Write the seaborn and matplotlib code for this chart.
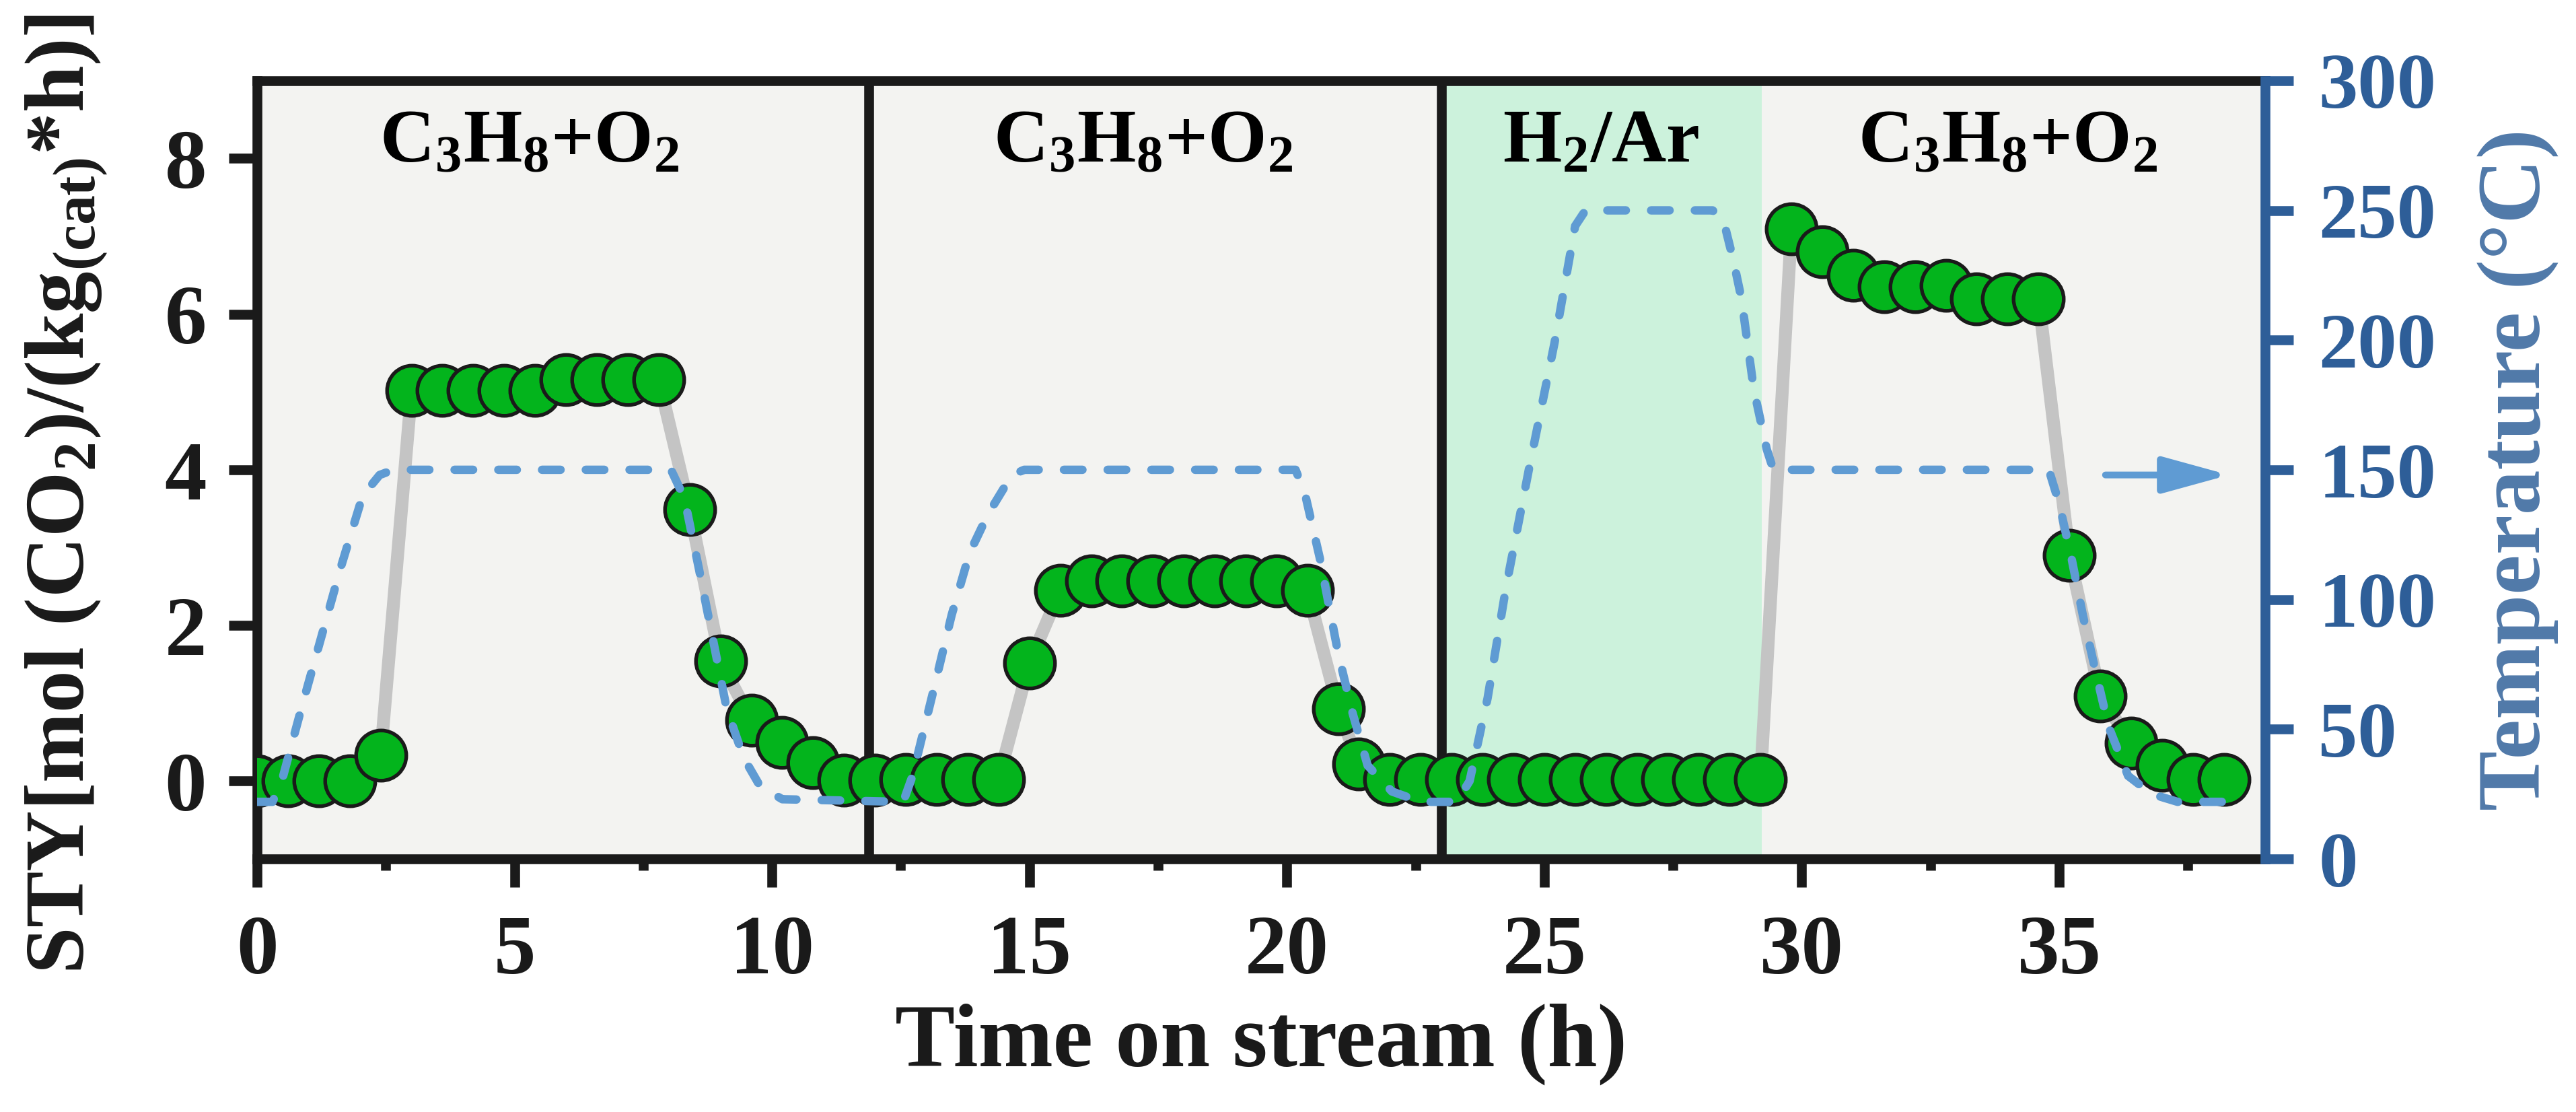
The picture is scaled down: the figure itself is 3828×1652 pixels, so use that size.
import matplotlib
matplotlib.use('Agg')
import matplotlib.pyplot as plt
from matplotlib.ticker import MultipleLocator
import seaborn as sns

# STY of CO2 vs time on stream
time_h = [0.0, 0.6, 1.2, 1.8, 2.4, 3.0, 3.6, 4.2, 4.8, 5.4, 6.0, 6.6, 7.2, 7.8,
          8.4, 9.0, 9.6, 10.2, 10.8, 11.4, 12.0,
          12.6, 13.2, 13.8, 14.4, 15.0, 15.6, 16.2, 16.8, 17.4, 18.0, 18.6, 19.2,
          19.8, 20.4, 21.0, 21.4,
          22.0, 22.6, 23.2, 23.8, 24.4, 25.0, 25.6, 26.2, 26.8, 27.4, 28.0, 28.6,
          29.2, 29.8, 30.4, 31.0, 31.6, 32.2, 32.8, 33.4, 34.0, 34.6, 35.2, 35.8,
          36.4, 37.0, 37.6, 38.2]
sty = [0.0, 0.0, 0.0, 0.0, 0.33, 5.02, 5.02, 5.02, 5.02, 5.02, 5.16, 5.16, 5.16, 5.16,
       3.49, 1.54, 0.78, 0.5, 0.24, 0.01, 0.01,
       0.02, 0.02, 0.02, 0.02, 1.52, 2.45, 2.57, 2.57, 2.57, 2.57, 2.57, 2.57,
       2.57, 2.45, 0.93, 0.22,
       0.02, 0.02, 0.02, 0.02, 0.02, 0.02, 0.02, 0.02, 0.02, 0.02, 0.02, 0.02,
       0.02, 7.1, 6.8, 6.5, 6.35, 6.35, 6.37, 6.2, 6.2, 6.2, 2.9, 1.09,
       0.49, 0.2, 0.02, 0.02]

# temperature programme (right axis)
temp_time = [0.0, 0.3, 0.48, 0.86, 1.24, 1.62, 2.05, 2.38, 2.65, 8.04, 8.3, 8.58,
             8.85, 9.12, 9.45, 9.77, 10.2, 12.55, 12.73, 13.15, 13.49, 13.84, 14.2,
             14.66, 14.9, 20.17, 20.35, 20.64, 21.0, 21.28, 21.57, 22.04, 22.6,
             23.3, 23.55, 23.9, 24.26, 24.7, 25.2, 25.6, 25.8, 28.27, 28.47, 28.67,
             28.83, 29.07, 29.32, 29.45, 34.8, 35.0, 35.24, 35.46, 35.7, 35.96,
             36.34, 36.8, 37.3, 38.2]
temp_c = [22, 22, 30, 58, 85, 112, 140, 148, 150, 150, 139, 112,
          85, 58, 39, 28, 23, 22, 32, 66, 94, 118, 133,
          148, 150, 150, 141, 116, 79, 56, 36, 26, 22,
          22, 30, 62, 105, 150, 199, 244, 250, 250, 247, 231,
          216, 181, 158, 150, 150, 137, 116, 94, 73, 51,
          32, 25, 22, 22]

dividers = [11.88, 23.0]
h2_span = (23.0, 29.22)
labels = ['C$_3$H$_8$+O$_2$', 'C$_3$H$_8$+O$_2$', 'H$_2$/Ar', 'C$_3$H$_8$+O$_2$']
label_x = [5.28, 17.2, 26.1, 34.0]

blue_dash = '#5f9bd3'
blue_axis = '#2e5e98'
blue_label = '#5079a9'

sns.set_theme(style='ticks')
plt.rcParams['font.family'] = ['Liberation Serif', 'DejaVu Serif']
plt.rcParams['font.weight'] = 'bold'
plt.rcParams['mathtext.default'] = 'regular'
for key in ['text.color', 'axes.labelcolor', 'xtick.color', 'ytick.color',
            'xtick.labelcolor', 'ytick.labelcolor']:
    plt.rcParams[key] = 'black'

fig, ax = plt.subplots(figsize=(12.76, 5.507), dpi=300)
fig.subplots_adjust(left=0.0998, right=0.8793, bottom=0.2276, top=0.9274)
ax.set_facecolor('#f3f3f1')
ax.axvspan(*h2_span, color='#ccf2dc', lw=0, zorder=0)
for xd in dividers:
    ax.axvline(xd, color='k', lw=3.5, zorder=1)

sns.lineplot(x=time_h, y=sty, ax=ax, color='#c4c4c4', lw=4.6, sort=False,
             estimator=None, zorder=2, solid_capstyle='round', solid_joinstyle='round')
sns.scatterplot(x=time_h, y=sty, ax=ax, s=320, color='#03b41c', edgecolor='k',
                linewidth=1.3, zorder=3)

for t, xl in zip(labels, label_x):
    ax.text(xl, 7.96, t, ha='center', va='baseline', fontsize=27,
            fontweight='bold', color='black', zorder=5)

ax.set_xlim(0, 39)
ax.set_ylim(-1, 9)
ax.xaxis.set_major_locator(MultipleLocator(5))
ax.xaxis.set_minor_locator(MultipleLocator(2.5))
ax.set_yticks([0, 2, 4, 6, 8])
ax.tick_params(axis='x', which='major', direction='out', length=10, width=3.5,
               labelsize=30, pad=10, color='k', labelcolor='k')
ax.tick_params(axis='x', which='minor', direction='out', length=4, width=3.5, color='k')
ax.tick_params(axis='y', which='major', direction='out', length=10, width=3.5,
               labelsize=30, pad=8, color='k', labelcolor='k')
for side in ['left', 'top', 'bottom']:
    ax.spines[side].set_linewidth(3.5)
    ax.spines[side].set_color('k')
ax.spines['right'].set_visible(False)

ax.set_xlabel('Time on stream (h)', fontsize=32, fontweight='bold', labelpad=4,
              color='k')
ax.set_ylabel('STY[mol (CO$_2$)/(kg$_{(cat)}$*h)]', fontsize=30, fontweight='bold',
              color='k')
ax.yaxis.set_label_coords(-0.0735, 0.469)

ax2 = ax.twinx()
sns.lineplot(x=temp_time, y=temp_c, ax=ax2, color=blue_dash, lw=3.0, sort=False,
             estimator=None, linestyle=(0, (2.2, 3.0)), dash_capstyle='round')
ax2.annotate('', xy=(38.3, 148), xytext=(35.9, 148),
             arrowprops=dict(arrowstyle='-|>,head_length=2.0,head_width=0.55',
                             color=blue_dash, lw=2.4, shrinkA=0, shrinkB=0,
                             mutation_scale=10))
ax2.set_ylim(0, 300)
ax2.set_yticks(range(0, 301, 50))
for side in ['left', 'top', 'bottom']:
    ax2.spines[side].set_visible(False)
ax2.spines['right'].set_linewidth(3.5)
ax2.spines['right'].set_color(blue_axis)
ax2.tick_params(axis='y', direction='out', length=10, width=3.5, color=blue_axis,
                labelcolor=blue_axis, labelsize=28, pad=9)
ax2.set_ylabel('Temperature (°C)', fontsize=32, fontweight='bold', color=blue_label)
ax2.yaxis.set_label_coords(1.126, 0.5)
ax2.yaxis.label.set_va('center')

fig.savefig('out.png', dpi=300)
